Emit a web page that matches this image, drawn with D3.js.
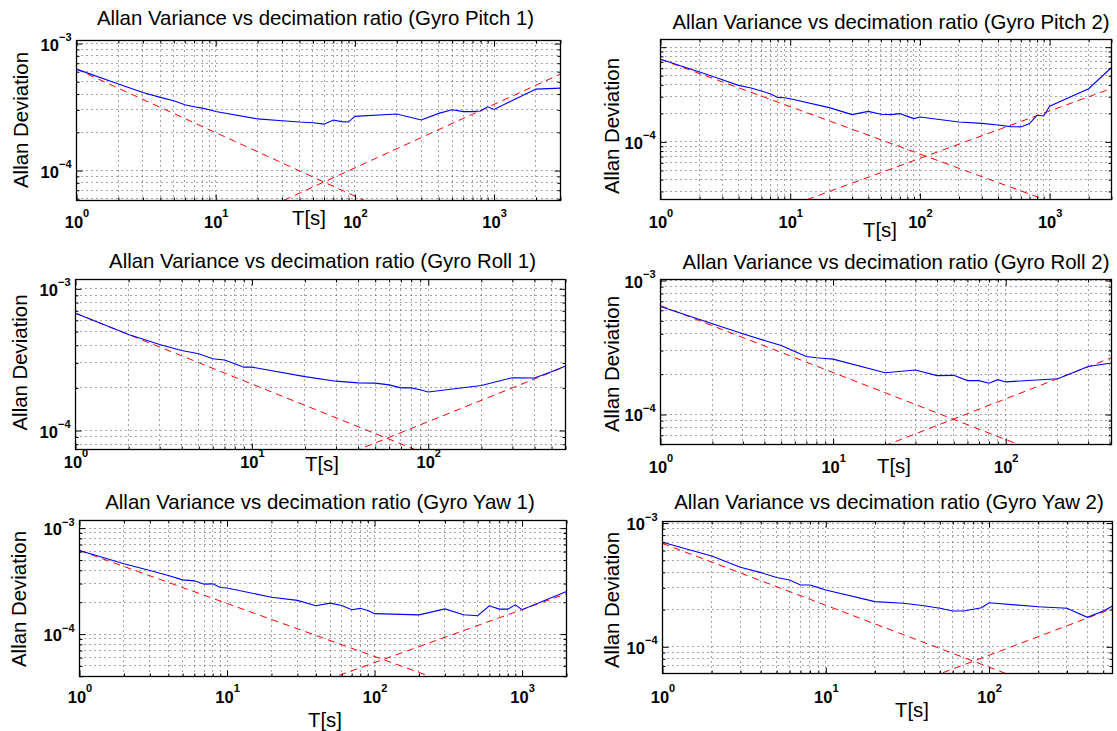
<!DOCTYPE html>
<html>
<head>
<meta charset="utf-8">
<script src="https://cdn.jsdelivr.net/npm/d3@7"></script>
<style>
  body { margin: 0; background: #fff; }
  svg { display: block; }
  text { font-family: "Liberation Sans", Arial, Helvetica, sans-serif; fill: #000; }
</style>
</head>
<body>
<svg id="chart" width="1117" height="731"></svg>
<script>
// ---------------- data ----------------
const titles = [
  "Allan Variance vs decimation ratio (Gyro Pitch 1)",
  "Allan Variance vs decimation ratio (Gyro Pitch 2)",
  "Allan Variance vs decimation ratio (Gyro Roll 1)",
  "Allan Variance vs decimation ratio (Gyro Roll 2)",
  "Allan Variance vs decimation ratio (Gyro Yaw 1)",
  "Allan Variance vs decimation ratio (Gyro Yaw 2)"
];
const xAxisLabel = "T[s]";
const yAxisLabel = "Allan Deviation";

// averaging times (decimation ratios) of each panel
const tauPitch1 = [1,2,3,4,5,6,7,8,9,10,20,30,40,50,60,70,80,90,100,200,300,400,500,600,700,800,900,1000,2000,3000];
const tauPitch2 = [1,2,3,4,5,6,7,8,9,10,20,30,40,50,60,70,80,90,100,200,300,400,500,600,700,800,900,1000,2000,3000];
const tauRoll1  = [1,2,3,4,5,6,7,8,9,10,20,30,40,50,60,70,80,90,100,200,300,400,500,600];
const tauRoll2  = [1,2,3,4,5,6,7,8,9,10,20,30,40,50,60,70,80,90,100,200,300,400,410];
const tauYaw1   = [1,2,3,4,5,6,7,8,9,10,20,30,40,50,60,70,80,90,100,200,300,400,500,600,700,800,900,1000,2000];
const tauYaw2   = [1,2,3,4,5,6,7,8,9,10,20,30,40,50,60,70,80,90,100,200,300,400,500,570];

// Allan deviation (blue curves)
const adevPitch1 = [6.29e-4,4.80e-4,4.12e-4,3.77e-4,3.55e-4,3.30e-4,3.18e-4,3.10e-4,3.01e-4,2.92e-4,2.55e-4,2.47e-4,2.41e-4,2.38e-4,2.32e-4,2.50e-4,2.43e-4,2.41e-4,2.67e-4,2.79e-4,2.50e-4,2.82e-4,3.01e-4,2.91e-4,2.91e-4,2.94e-4,3.18e-4,3.03e-4,4.38e-4,4.46e-4];
const adevPitch2 = [7.45e-4,5.46e-4,4.53e-4,3.95e-4,3.70e-4,3.44e-4,3.23e-4,2.95e-4,2.93e-4,2.86e-4,2.30e-4,1.94e-4,2.10e-4,1.96e-4,1.94e-4,1.99e-4,1.86e-4,1.76e-4,1.83e-4,1.62e-4,1.57e-4,1.51e-4,1.45e-4,1.44e-4,1.56e-4,1.91e-4,1.88e-4,2.38e-4,3.64e-4,6.10e-4];
const adevRoll1  = [6.73e-4,4.76e-4,4.05e-4,3.67e-4,3.48e-4,3.21e-4,3.15e-4,2.96e-4,2.80e-4,2.80e-4,2.40e-4,2.23e-4,2.17e-4,2.16e-4,2.10e-4,2.00e-4,2.00e-4,1.94e-4,1.87e-4,2.08e-4,2.36e-4,2.35e-4,2.60e-4,2.85e-4];
const adevRoll2  = [6.40e-4,4.75e-4,4.00e-4,3.57e-4,3.27e-4,2.95e-4,2.71e-4,2.65e-4,2.62e-4,2.59e-4,2.05e-4,2.15e-4,1.95e-4,1.96e-4,1.79e-4,1.79e-4,1.71e-4,1.82e-4,1.75e-4,1.85e-4,2.28e-4,2.41e-4,2.43e-4];
const adevYaw1   = [6.15e-4,4.61e-4,3.98e-4,3.57e-4,3.25e-4,3.18e-4,2.96e-4,2.98e-4,2.75e-4,2.72e-4,2.23e-4,2.08e-4,1.85e-4,1.96e-4,1.86e-4,1.70e-4,1.75e-4,1.67e-4,1.56e-4,1.52e-4,1.73e-4,1.52e-4,1.49e-4,1.85e-4,1.72e-4,1.72e-4,1.89e-4,1.70e-4,2.52e-4];
const adevYaw2   = [7.01e-4,5.43e-4,4.40e-4,3.98e-4,3.63e-4,3.47e-4,3.16e-4,3.16e-4,3.01e-4,2.88e-4,2.32e-4,2.25e-4,2.15e-4,2.05e-4,1.95e-4,1.95e-4,2.01e-4,2.07e-4,2.27e-4,2.11e-4,2.05e-4,1.73e-4,1.95e-4,2.14e-4];

// red dashed fit lines, end points [tau, value] (slope -1/2 and +1/2)
const arwLines = [
  [[1,6.29e-4],[3000,1.148e-5]],
  [[1,7.45e-4],[3000,1.36e-5]],
  [[1,6.73e-4],[600,2.75e-5]],
  [[1,6.50e-4],[410,3.21e-5]],
  [[1,6.15e-4],[2000,1.375e-5]],
  [[1,6.85e-4],[570,2.87e-5]]
];
const rrwLines = [
  [[1,1.05e-5],[3000,5.75e-4]],
  [[1,6.70e-6],[3000,3.67e-4]],
  [[1,1.155e-5],[600,2.83e-4]],
  [[1,1.31e-5],[410,2.65e-4]],
  [[1,5.38e-6],[2000,2.41e-4]],
  [[1,8.56e-6],[570,2.04e-4]]
];

// axis limits
const xLimits = [[1,3000],[1,3000],[1,600],[1,410],[1,2000],[1,570]];
const yLimits = [[5.81e-5,1.057e-3],[2.466e-5,1.205e-3],[7.345e-5,1.164e-3],[5.97e-5,1.0174e-3],[3.98e-5,1.180e-3],[6.086e-5,1.030e-3]];
// labelled y decades (exponents)
const yTickExps = [[-3,-4],[-4],[-3,-4],[-3,-4],[-3,-4],[-3,-4]];

const tauSeries  = [tauPitch1, tauPitch2, tauRoll1, tauRoll2, tauYaw1, tauYaw2];
const adevSeries = [adevPitch1, adevPitch2, adevRoll1, adevRoll2, adevYaw1, adevYaw2];

// ---------------- layout ----------------
const boxes = [
  {l:76.5,  r:560.5,  t:40.5,  b:200.5},
  {l:660.5, r:1111.5, t:39.5,  b:199.5},
  {l:75.5,  r:565.5,  t:279.5, b:449.5},
  {l:660.5, r:1111.5, t:279.5, b:444.5},
  {l:79.5,  r:566.5,  t:520.5, b:676.5},
  {l:662.5, r:1112.5, t:521.5, b:673.5}
];
const xTickOffset = [27, 28, 18, 28, 26, 29];
const titlePos = [[315.5,24.5],[891,29.3],[322.5,267.6],[896,269.3],[320,509.3],[889,509.3]];
const xLabelPos = [[309,225],[880,237],[322,471],[894,473],[325,727],[912,717]];
const yLabelPos = [[28,120],[619,126],[27,362.5],[619,364],[26,599],[619,600]];

const svg = d3.select("#chart");
const FS_TITLE = 20.4;

function gridValues(lo, hi) {
  const out = [];
  for (let k = Math.floor(Math.log10(lo)); k <= Math.ceil(Math.log10(hi)); k++) {
    for (let m = 1; m <= 9; m++) {
      const v = m * Math.pow(10, k);
      if (v >= lo * 0.9999 && v <= hi * 1.0001) out.push(v);
    }
  }
  return out;
}
const isDecade = v => Math.abs(Math.log10(v) - Math.round(Math.log10(v))) < 1e-9;

boxes.forEach((bx, i) => {
  const w = bx.r - bx.l, h = bx.b - bx.t;
  const x = d3.scaleLog().domain(xLimits[i]).range([0, w]);
  const y = d3.scaleLog().domain(yLimits[i]).range([h, 0]);
  const g = svg.append("g").attr("transform", `translate(${bx.l},${bx.t})`);

  const clipId = "clip" + i;
  g.append("clipPath").attr("id", clipId).append("rect").attr("width", w).attr("height", h);

  const xg = gridValues(xLimits[i][0], xLimits[i][1]);
  const yg = gridValues(yLimits[i][0], yLimits[i][1]);

  // dotted grid
  const grid = g.append("g").attr("stroke", "#111").attr("stroke-width", 1)
    .attr("stroke-dasharray", "1,4").attr("opacity", 0.75);
  grid.selectAll(".gx").data(xg.filter(v => x(v) > 0.5 && x(v) < w - 0.5)).join("line")
    .attr("x1", d => Math.round(x(d))).attr("x2", d => Math.round(x(d)))
    .attr("y1", 0).attr("y2", h);
  grid.selectAll(".gy").data(yg.filter(v => y(v) > 0.5 && y(v) < h - 0.5)).join("line")
    .attr("y1", d => Math.round(y(d))).attr("y2", d => Math.round(y(d)))
    .attr("x1", 0).attr("x2", w);

  const line = d3.line().x(d => x(d[0])).y(d => y(d[1]));
  const plot = g.append("g").attr("clip-path", `url(#${clipId})`);
  [arwLines[i], rrwLines[i]].forEach(seg => {
    plot.append("path").attr("d", line(seg)).attr("fill", "none")
      .attr("stroke", "#ff0000").attr("stroke-width", 1).attr("stroke-dasharray", "7,5");
  });
  const pts = tauSeries[i].map((t, j) => [t, adevSeries[i][j]]);
  plot.append("path").attr("d", line(pts)).attr("fill", "none")
    .attr("stroke", "#0000ff").attr("stroke-width", 1.1);

  // axes: ticks inward on all sides
  const xMajor = xg.filter(isDecade), xMinor = xg.filter(v => !isDecade(v));
  const yMajor = yg.filter(isDecade), yMinor = yg.filter(v => !isDecade(v));
  const styleAxis = sel => sel.attr("font-size", null).attr("font-family", null)
    .call(s => s.select(".domain").remove())
    .call(s => s.selectAll(".tick line").attr("stroke", "#000"));

  g.append("g").attr("transform", `translate(0,${h})`)
    .call(d3.axisBottom(x).tickValues(xMinor).tickSizeInner(-3).tickSizeOuter(0).tickFormat(""))
    .call(styleAxis);
  g.append("g")
    .call(d3.axisTop(x).tickValues(xMinor).tickSizeInner(-3).tickSizeOuter(0).tickFormat(""))
    .call(styleAxis);
  g.append("g")
    .call(d3.axisTop(x).tickValues(xMajor).tickSizeInner(-6).tickSizeOuter(0).tickFormat(""))
    .call(styleAxis);
  g.append("g")
    .call(d3.axisLeft(y).tickValues(yMinor).tickSizeInner(-3).tickSizeOuter(0).tickFormat(""))
    .call(styleAxis);
  g.append("g").attr("transform", `translate(${w},0)`)
    .call(d3.axisRight(y).tickValues(yMinor).tickSizeInner(-3).tickSizeOuter(0).tickFormat(""))
    .call(styleAxis);
  g.append("g").attr("transform", `translate(${w},0)`)
    .call(d3.axisRight(y).tickValues(yMajor).tickSizeInner(-6).tickSizeOuter(0).tickFormat(""))
    .call(styleAxis);

  // bottom major axis with 10^k labels
  const bx0 = g.append("g").attr("transform", `translate(0,${h})`)
    .call(d3.axisBottom(x).tickValues(xMajor).tickSizeInner(-6).tickSizeOuter(0).tickFormat(() => ""))
    .call(styleAxis);
  bx0.selectAll(".tick text").each(function(d) {
    const t = d3.select(this).attr("y", xTickOffset[i]).attr("dy", null)
      .attr("text-anchor", "middle").attr("font-weight", "bold");
    t.append("tspan").attr("font-size", 16.5).text("10");
    t.append("tspan").attr("font-size", 11).attr("dy", -11)
      .text(String(Math.round(Math.log10(d))).replace("-", "\u2212"));
  });

  // left major axis with labels only at listed decades
  const yLab = yTickExps[i].map(e => Math.pow(10, e));
  const by0 = g.append("g")
    .call(d3.axisLeft(y).tickValues(yMajor).tickSizeInner(-6).tickSizeOuter(0)
      .tickFormat(d => yLab.some(v => Math.abs(Math.log10(v) - Math.log10(d)) < 1e-9) ? "lab" : ""))
    .call(styleAxis);
  by0.selectAll(".tick text").each(function(d) {
    const t = d3.select(this);
    const show = t.text() === "lab";
    t.text("").attr("x", -5).attr("dy", null).attr("y", 6.5)
      .attr("text-anchor", "end").attr("font-weight", "bold");
    if (!show) return;
    t.append("tspan").attr("font-size", 16.5).text("10");
    t.append("tspan").attr("font-size", 11).attr("dy", -9.5)
      .text(String(Math.round(Math.log10(d))).replace("-", "\u2212"));
  });

  // box
  g.append("rect").attr("width", w).attr("height", h)
    .attr("fill", "none").attr("stroke", "#000").attr("stroke-width", 1.3);

  // texts
  svg.append("text").attr("x", titlePos[i][0]).attr("y", titlePos[i][1])
    .attr("text-anchor", "middle").attr("font-size", FS_TITLE).text(titles[i]);
  svg.append("text").attr("x", xLabelPos[i][0]).attr("y", xLabelPos[i][1])
    .attr("text-anchor", "middle").attr("font-size", FS_TITLE).text(xAxisLabel);
  svg.append("text")
    .attr("transform", `translate(${yLabelPos[i][0]},${yLabelPos[i][1]}) rotate(-90)`)
    .attr("text-anchor", "middle").attr("font-size", FS_TITLE).text(yAxisLabel);
});
</script>
</body>
</html>
